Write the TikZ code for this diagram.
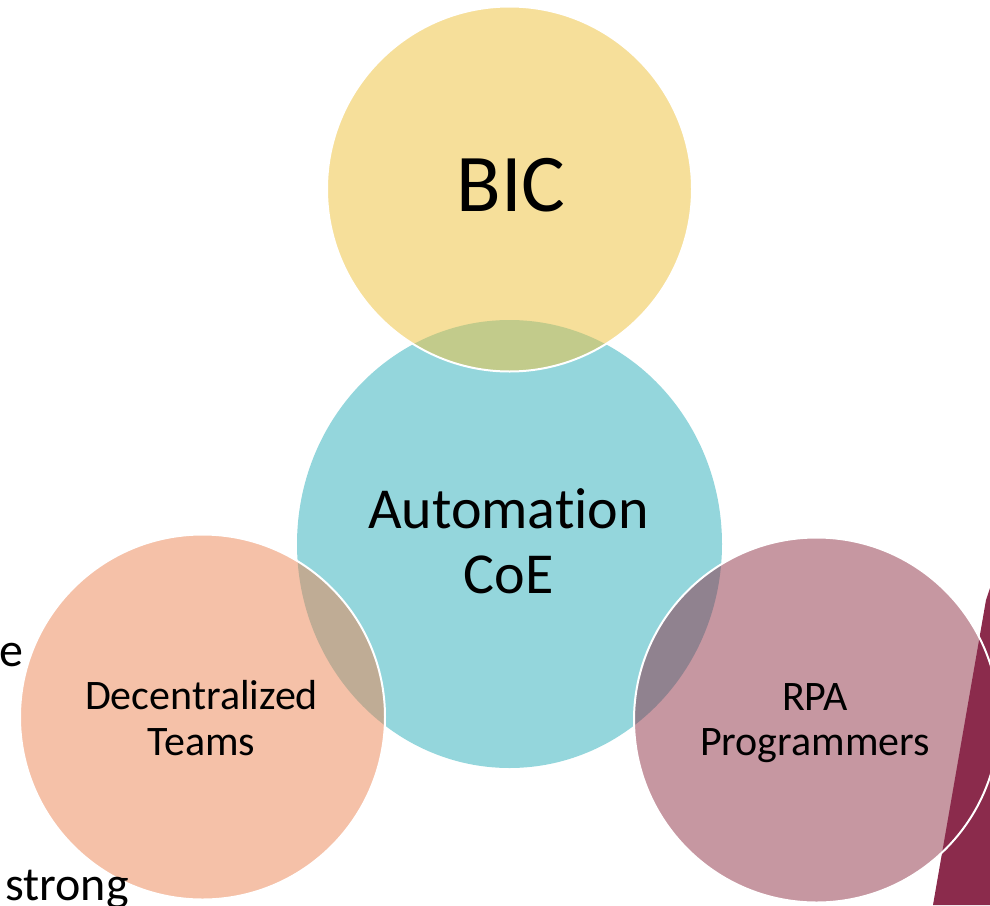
\documentclass[tikz,border=0pt]{standalone}
\usepackage{fontspec}
\setmainfont[Ligatures=NoCommon]{Carlito}
\definecolor{bicC}{HTML}{F6DF9A}
\definecolor{coeC}{HTML}{94D6DC}
\definecolor{ovBC}{HTML}{C2CB8B}
\definecolor{decC}{HTML}{F5C1A8}
\definecolor{ovDC}{HTML}{BFAC95}
\definecolor{rpaC}{HTML}{C697A1}
\definecolor{ovRC}{HTML}{90828F}
\definecolor{maroonC}{HTML}{8B2B4C}
\tikzset{
  lbl/.style={anchor=base, inner sep=0pt, text=black},
  big/.style={font=\fontsize{82}{98}\selectfont},
  mid/.style={font=\fontsize{58}{70}\selectfont},
  small/.style={font=\fontsize{42}{50}\selectfont},
  side/.style={font=\fontsize{48}{58}\selectfont, anchor=base west, inner sep=0pt},
  rim/.style={draw=white, line width=2pt}
}
\begin{document}
\begin{tikzpicture}[x=1pt,y=-1pt]
\useasboundingbox (0,0) rectangle (990,905);
\clip (0,0) rectangle (990,905);
% central circle
\fill[coeC] (509.5,544) ellipse [x radius=212.5pt, y radius=224pt];
% BIC
\fill[bicC] (509.5,189) circle [radius=182.5pt];
\begin{scope}
  \clip (509.5,544) ellipse [x radius=212.5pt, y radius=224pt];
  \fill[ovBC] (509.5,189) circle [radius=182.5pt];
\end{scope}
% Decentralized
\fill[decC] (202.5,717) circle [radius=182.5pt];
\begin{scope}
  \clip (509.5,544) ellipse [x radius=212.5pt, y radius=224pt];
  \fill[ovDC] (202.5,717) circle [radius=182.5pt];
\end{scope}
% RPA
\fill[rpaC] (816.5,720) circle [radius=182.5pt];
\begin{scope}
  \clip (509.5,544) ellipse [x radius=212.5pt, y radius=224pt];
  \fill[ovRC] (816.5,720) circle [radius=182.5pt];
\end{scope}
% maroon wedge
\fill[maroonC] (986,600) -- (990,588) -- (990,905) -- (933,905) -- cycle;
% white rims
\draw[rim] (509.5,189) circle [radius=182.5pt];
\draw[rim] (202.5,717) circle [radius=182.5pt];
\draw[rim] (816.5,720) circle [radius=182.5pt];
% texts
\node[lbl, big] (bic) at (511,211.7) {BIC};
\node[lbl, mid] (coeA) at (508.5,528.3) {Automat\kern0pt ion};
\node[lbl, mid] (coeB) at (508.5,593) {CoE};
\node[lbl, small] (decA) at (201.5,709.3) {Decentralized};
\node[lbl, small] (decB) at (201.5,755) {Teams};
\node[lbl, small] (rpaA) at (815,710) {RPA};
\node[lbl, small] (rpaB) at (815,755) {Programmers};
\node[side] (sideE) at (-1,666) {e};
\node[side] (sideS) at (5,900) {strong};
\end{tikzpicture}
\end{document}
